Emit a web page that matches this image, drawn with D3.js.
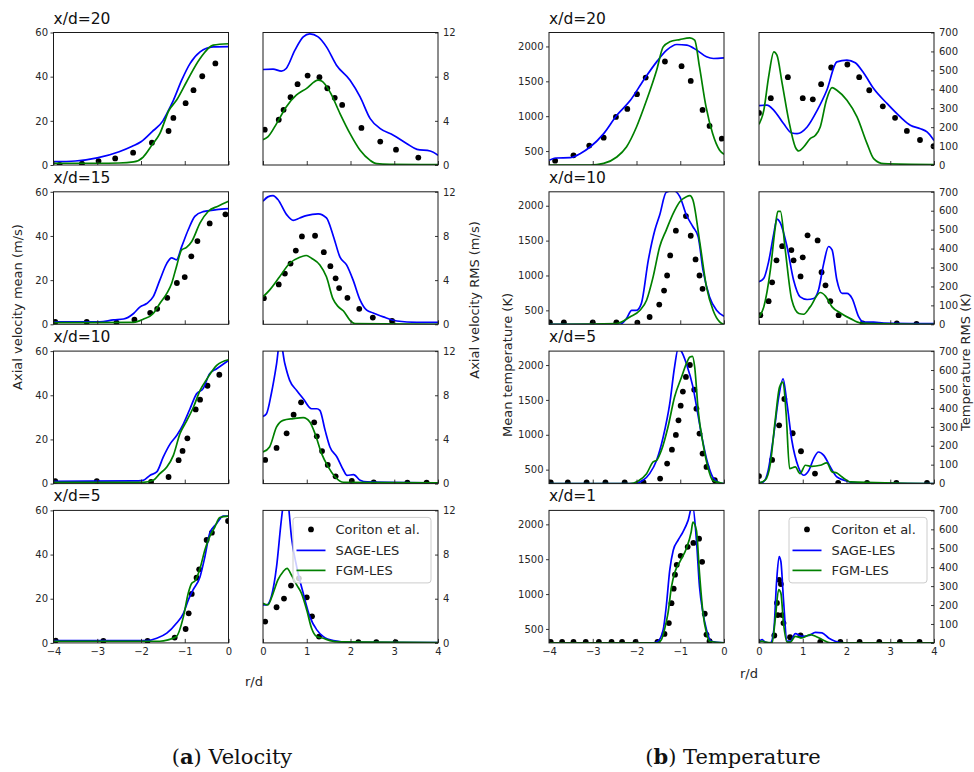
<!DOCTYPE html>
<html>
<head>
<meta charset="utf-8">
<script src="https://cdn.jsdelivr.net/npm/d3@7"></script>
<style>
  body { margin: 0; background: #fff; }
  svg { display: block; }
</style>
</head>
<body>
<svg id="fig" width="974" height="772"></svg>
<script>
// ---------- Axial velocity mean (m/s) vs r/d ----------
const uMean20Exp  = [[-3.86,0],[-3.35,0.6],[-2.97,1.8],[-2.59,3.0],[-2.18,5.6],[-1.75,10.1],[-1.37,15.4],[-1.26,21.3],[-0.98,28],[-0.80,33.9],[-0.60,40.2],[-0.30,46]];
const uMean20Sage = [[-4,1.5],[-3.5,1.8],[-3,3.2],[-2.5,6],[-2.2,8.5],[-2,10.5],[-1.75,15],[-1.5,20],[-1.41,23.3],[-1.26,29.3],[-1.07,38.4],[-0.88,45.9],[-0.65,51.2],[-0.35,53.5],[0,53.6]];
const uMean20Fgm  = [[-4,0.8],[-3,0.8],[-2.5,0.9],[-2.17,1.4],[-1.95,3.6],[-1.75,9],[-1.57,14.2],[-1.36,24.8],[-1.19,29.3],[-0.96,37.6],[-0.65,48.2],[-0.35,54.3],[0,54.9]];

const uMean15Exp  = [[-3.96,1.06],[-3.24,1.06],[-2.56,0.76],[-2.15,2.1],[-1.79,5.2],[-1.63,7.0],[-1.40,12.0],[-1.18,18.7],[-1.0,21.4],[-0.85,30.8],[-0.71,37.7],[-0.43,45.7],[-0.07,49.8]];
const uMean15Sage = [[-4,1.06],[-2.94,1.06],[-2.63,2.0],[-2.4,2.4],[-2.17,4.9],[-2.02,7.9],[-1.87,9.4],[-1.72,12.5],[-1.57,20.0],[-1.41,27.6],[-1.3,30.1],[-1.19,29.2],[-1.07,35.2],[-0.92,42.8],[-0.77,48.9],[-0.58,51.0],[-0.27,51.9],[0,52.4]];
const uMean15Fgm  = [[-4,0.76],[-2.17,0.9],[-1.95,2.3],[-1.72,4.9],[-1.57,9.4],[-1.41,14.0],[-1.3,18.5],[-1.19,26.1],[-1.07,33.7],[-0.96,34.8],[-0.84,37.5],[-0.65,45.9],[-0.46,51.2],[-0.24,53.5],[0,55.7]];

const uMean10Exp  = [[-3.96,1.06],[-3.01,1.06],[-1.77,0.75],[-1.37,3.0],[-1.14,10.6],[-1.05,14.8],[-0.94,20.5],[-0.75,33.6],[-0.65,38.0],[-0.48,44.3],[-0.21,49.3]];
const uMean10Sage = [[-4,1.06],[-2.17,1.2],[-1.95,1.5],[-1.79,3.8],[-1.64,5.3],[-1.49,12.1],[-1.33,18.1],[-1.18,21.9],[-1.03,27.1],[-0.88,33.9],[-0.73,40.7],[-0.58,43.0],[-0.43,49.8],[-0.27,52.0],[0,55.8]];
const uMean10Fgm  = [[-4,0.6],[-1.95,0.6],[-1.72,1.5],[-1.57,4.5],[-1.41,7.5],[-1.26,12.8],[-1.11,22.6],[-0.95,28.6],[-0.8,34.7],[-0.65,42.2],[-0.49,47.5],[-0.27,53.5],[0,56.1]];

const uMean5Exp   = [[-3.95,1.06],[-2.86,0.9],[-1.85,0.9],[-1.23,2.4],[-0.98,6.3],[-0.91,13.4],[-0.84,22.2],[-0.73,29.5],[-0.67,33.3],[-0.5,46.6],[-0.38,49.9],[-0.01,55.2]];
const uMean5Sage  = [[-4,1.06],[-1.87,1.06],[-1.64,2.1],[-1.41,4.4],[-1.19,8.9],[-1.03,13.4],[-0.92,19.4],[-0.81,24.0],[-0.65,30.0],[-0.54,39.0],[-0.43,49.6],[-0.27,54.1],[-0.12,57.4],[0,57.4]];
const uMean5Fgm   = [[-4,0.75],[-1.57,0.75],[-1.38,1.4],[-1.19,2.9],[-1.03,11.9],[-0.92,22.5],[-0.84,27.0],[-0.76,28.2],[-0.65,33.8],[-0.54,42.1],[-0.43,48.1],[-0.31,52.6],[-0.2,56.8],[0,57.4]];

// ---------- Axial velocity RMS (m/s) vs r/d ----------
const uRms20Exp  = [[0.04,3.2],[0.36,4.1],[0.47,5.0],[0.63,6.14],[0.79,7.32],[1.02,8.1],[1.29,7.95],[1.47,6.95],[1.64,6.08],[1.81,5.44],[2.25,3.36],[2.68,2.12],[3.04,1.39],[3.55,0.67]];
const uRms20Sage = [[0,8.65],[0.23,8.68],[0.42,8.5],[0.53,8.74],[0.73,10.4],[0.92,11.6],[1.07,11.88],[1.26,11.6],[1.45,10.7],[1.68,9.04],[1.99,7.68],[2.22,6.17],[2.45,4.2],[2.68,3.3],[2.98,2.7],[3.29,1.93],[3.52,1.42],[3.82,1.27],[4,0.88]];
const uRms20Fgm  = [[0,2.3],[0.11,2.54],[0.31,3.75],[0.53,5.26],[0.76,6.32],[0.99,6.92],[1.26,7.68],[1.34,7.6],[1.53,6.62],[1.76,4.66],[1.99,2.84],[2.22,1.33],[2.45,0.42],[2.6,0.12],[2.9,0.06],[4,0.03]];

const uRms15Exp  = [[0.02,2.37],[0.36,3.61],[0.5,4.59],[0.63,5.5],[0.75,6.68],[0.89,7.96],[1.19,8.02],[1.39,6.53],[1.54,5.26],[1.66,4.16],[1.74,3.28],[1.93,2.4],[2.2,1.4],[2.51,0.61],[2.95,0.3]];
const uRms15Sage = [[0,11.15],[0.11,11.54],[0.23,11.66],[0.34,11.3],[0.54,9.93],[0.69,9.42],[0.84,9.63],[0.99,9.84],[1.26,10.0],[1.45,9.63],[1.61,7.96],[1.76,6.08],[1.91,5.38],[2.06,4.0],[2.22,2.19],[2.37,1.28],[2.52,1.03],[2.75,0.67],[3.06,0.3],[3.52,0.18],[4,0.18]];
const uRms15Fgm  = [[0,2.49],[0.15,3.1],[0.38,4.31],[0.61,5.53],[0.84,6.08],[0.99,6.23],[1.11,5.98],[1.3,5.38],[1.45,4.31],[1.6,2.3],[1.72,1.6],[1.84,1.2],[1.99,0.36],[2.1,0.06],[4,0]];

const uRms10Exp  = [[0.05,2.14],[0.31,3.23],[0.54,4.55],[0.7,6.24],[0.87,7.36],[1.17,5.55],[1.23,4.28],[1.35,2.95],[1.48,1.69],[1.66,0.66],[2.03,0.24],[2.53,0.12],[3.3,0.09],[3.74,0.09]];
const uRms10Sage = [[0,6.09],[0.08,6.33],[0.19,8.14],[0.31,10.85],[0.39,13],[0.5,10.85],[0.61,9.35],[0.77,8.44],[0.92,7.69],[1.11,6.78],[1.23,6.78],[1.3,6.63],[1.42,4.82],[1.53,3.32],[1.69,2.41],[1.84,1.21],[1.92,0.75],[2.07,0.81],[2.22,0.3],[2.38,0.15],[4,0.06]];
const uRms10Fgm  = [[0,2.86],[0.15,3.32],[0.31,5.13],[0.46,5.73],[0.69,5.88],[0.92,5.97],[1.07,5.58],[1.19,4.52],[1.34,2.71],[1.49,1.51],[1.65,0.6],[1.84,0.12],[4,0.06]];

const uRms5Exp   = [[0.05,1.93],[0.31,3.23],[0.48,4.01],[0.64,5.19],[0.82,5.85],[1.0,4.13],[1.12,2.41],[1.28,0.57],[2.18,0.06],[2.59,0.06],[3.03,0.06]];
const uRms5Sage  = [[0,3.44],[0.08,3.44],[0.19,4.19],[0.31,6.9],[0.41,10.8],[0.46,12.5],[0.52,14],[0.58,12.5],[0.65,9.6],[0.77,6.9],[0.92,4.49],[1.07,2.38],[1.23,1.18],[1.38,0.57],[1.61,0.21],[1.99,0.06],[4,0.03]];
const uRms5Fgm   = [[0,3.59],[0.11,3.44],[0.23,4.49],[0.34,5.7],[0.46,6.45],[0.55,6.75],[0.65,6.15],[0.77,5.25],[0.88,4.49],[1.0,2.98],[1.11,1.33],[1.23,0.57],[1.38,0.42],[1.53,0.21],[1.76,0.09],[4,0.03]];

// ---------- Mean temperature (K) vs r/d ----------
const tMean20Exp  = [[-3.86,362],[-3.44,439],[-3.08,578],[-2.75,692],[-2.47,989],[-2.21,1104],[-1.99,1315],[-1.79,1554],[-1.35,1784],[-0.97,1717],[-0.76,1506],[-0.49,1090],[-0.33,860],[-0.05,678]];
const tMean20Sage = [[-4,367],[-3.83,400],[-3.52,405],[-3.29,463],[-3.06,558],[-2.75,750],[-2.45,1013],[-2.14,1228],[-1.84,1515],[-1.54,1779],[-1.31,1946],[-1.08,2028],[-0.85,2018],[-0.62,1946],[-0.40,1851],[-0.24,1827],[0,1836]];
const tMean20Fgm  = [[-4,300],[-3.06,300],[-2.75,324],[-2.45,415],[-2.23,558],[-2.0,845],[-1.77,1228],[-1.54,1659],[-1.39,1994],[-1.24,2066],[-1.01,2099],[-0.78,2123],[-0.67,2090],[-0.56,1707],[-0.41,1133],[-0.26,750],[-0.10,511],[0,453]];

const tMean10Exp  = [[-3.98,329],[-3.66,329],[-3.0,329],[-2.46,329],[-1.98,324],[-1.70,405],[-1.48,583],[-1.37,784],[-1.30,1000],[-1.23,1287],[-1.10,1642],[-0.87,1852],[-0.76,1570],[-0.65,1230],[-0.56,1000],[-0.49,808]];
const tMean10Sage = [[-4,300],[-2.38,300],[-2.23,381],[-2.11,501],[-2.0,501],[-1.89,597],[-1.73,1220],[-1.58,1651],[-1.47,1867],[-1.32,2193],[-1.16,2215],[-1.01,2130],[-0.86,1867],[-0.71,1699],[-0.59,1555],[-0.48,1076],[-0.33,693],[-0.17,501],[0,415]];
const tMean10Fgm  = [[-4,300],[-2.46,310],[-2.15,405],[-1.92,501],[-1.77,645],[-1.62,980],[-1.47,1412],[-1.32,1651],[-1.16,1891],[-1.01,2058],[-0.86,2130],[-0.78,2145],[-0.71,2082],[-0.55,1460],[-0.40,837],[-0.25,501],[-0.10,334],[0,300]];

const tMean5Exp   = [[-3.96,319],[-3.57,319],[-3.14,319],[-2.71,319],[-2.27,319],[-1.84,319],[-1.46,372],[-1.30,587],[-1.19,787],[-1.10,998],[-1.04,1208],[-0.99,1418],[-0.94,1619],[-0.87,1829],[-0.78,2001],[-0.68,1647],[-0.63,1375],[-0.56,1017],[-0.49,730],[-0.40,539],[-0.21,348]];
const tMean5Sage  = [[-4,300],[-2.08,300],[-1.85,348],[-1.70,443],[-1.54,634],[-1.39,969],[-1.24,1447],[-1.13,1972],[-1.05,2230],[-0.98,2202],[-0.86,2020],[-0.71,1686],[-0.60,1303],[-0.49,921],[-0.37,587],[-0.26,396],[-0.10,310],[0,300]];
const tMean5Fgm   = [[-4,300],[-2.16,300],[-1.96,338],[-1.77,443],[-1.62,611],[-1.54,634],[-1.43,778],[-1.28,1112],[-1.13,1542],[-0.97,1829],[-0.86,2020],[-0.78,2116],[-0.72,2125],[-0.67,1972],[-0.59,1351],[-0.48,873],[-0.37,539],[-0.26,348],[0,300]];

const tMean1Exp   = [[-3.96,314],[-3.7,314],[-3.44,314],[-3.16,314],[-2.86,314],[-2.57,314],[-2.33,314],[-2.02,314],[-1.52,314],[-1.36,428],[-1.26,585],[-1.2,870],[-1.15,1078],[-1.12,1278],[-1.08,1420],[-0.99,1548],[-0.83,1677],[-0.70,1734],[-0.57,1795],[-0.5,1463],[-0.44,718],[-0.40,419],[-0.33,324]];
const tMean1Sage  = [[-4,300],[-1.62,300],[-1.51,324],[-1.39,490],[-1.32,822],[-1.24,1344],[-1.16,1629],[-1.05,1772],[-0.94,1890],[-0.82,2057],[-0.72,2280],[-0.63,1772],[-0.56,1107],[-0.48,727],[-0.40,490],[-0.29,324],[0,300]];
const tMean1Fgm   = [[-4,300],[-1.52,300],[-1.43,347],[-1.36,490],[-1.28,727],[-1.2,1107],[-1.12,1320],[-1.01,1463],[-0.86,1653],[-0.75,1890],[-0.71,2033],[-0.63,1914],[-0.56,1297],[-0.48,727],[-0.40,442],[-0.33,324],[0,300]];

// ---------- Temperature RMS (K) vs r/d ----------
const tRms20Exp  = [[0,275],[0.27,353],[0.66,464],[1.0,353],[1.23,347],[1.42,427],[1.65,515],[2.02,531],[2.29,464],[2.52,395],[2.83,310],[3.11,249],[3.38,180],[3.68,132],[3.99,99]];
const tRms20Sage = [[0,314],[0.18,316],[0.34,289],[0.56,219],[0.75,169],[0.87,166],[1.1,201],[1.33,289],[1.55,395],[1.78,545],[2.01,554],[2.2,540],[2.4,483],[2.62,404],[2.93,324],[3.23,254],[3.46,210],[3.69,192],[3.84,175],[4,130]];
const tRms20Fgm  = [[0,215],[0.11,289],[0.22,466],[0.34,598],[0.41,580],[0.53,430],[0.68,236],[0.83,95],[0.91,74],[1.02,95],[1.17,139],[1.29,157],[1.4,201],[1.54,342],[1.67,409],[1.78,395],[2.01,342],[2.24,254],[2.47,113],[2.62,34],[2.85,7],[4,2]];

const tRms10Exp  = [[0.03,48],[0.22,122],[0.3,222],[0.4,338],[0.53,413],[0.74,392],[0.79,338],[0.95,253],[1.0,354],[1.11,470],[1.34,443],[1.43,275],[1.52,206],[1.63,122],[1.82,48],[2.37,5],[3.15,5],[3.6,2]];
const tRms10Sage = [[0,225],[0.11,243],[0.22,331],[0.34,482],[0.41,556],[0.49,535],[0.64,411],[0.79,234],[0.94,145],[1.1,131],[1.25,136],[1.36,181],[1.48,322],[1.59,411],[1.67,393],[1.78,234],[1.9,163],[2.01,163],[2.13,136],[2.28,39],[2.39,12],[2.62,12],[2.85,7],[4,4]];
const tRms10Fgm  = [[0,39],[0.11,92],[0.26,287],[0.37,509],[0.43,597],[0.49,597],[0.6,393],[0.75,128],[0.91,57],[1.02,53],[1.17,92],[1.4,168],[1.52,149],[1.67,92],[1.86,60],[2.09,30],[2.32,7],[4,0]];

const tRms5Exp   = [[0,40],[0.30,125],[0.46,308],[0.58,447],[0.77,266],[0.96,171],[1.28,53],[1.81,4],[2.47,4],[3.14,4],[3.84,4]];
const tRms5Sage  = [[0,4],[0.1,9],[0.21,70],[0.33,246],[0.45,457],[0.55,554],[0.64,422],[0.75,229],[0.9,88],[1.02,44],[1.14,70],[1.25,132],[1.36,167],[1.48,149],[1.63,88],[1.78,35],[1.94,18],[2.24,4],[4,0]];
const tRms5Fgm   = [[0,4],[0.14,18],[0.26,106],[0.37,334],[0.47,510],[0.55,536],[0.62,369],[0.7,79],[0.83,88],[0.94,53],[1.06,97],[1.21,91],[1.4,97],[1.55,109],[1.67,62],[1.78,56],[1.9,35],[2.09,9],[4,0]];

const tRms1Exp   = [[0.35,39],[0.41,211],[0.43,147],[0.46,333],[0.5,311],[0.53,147],[0.56,105],[0.71,30],[0.95,40],[1.4,5],[1.86,5],[2.3,5],[2.75,5],[3.22,5],[3.67,5]];
const tRms1Sage  = [[0,5],[0.07,18],[0.14,5],[0.26,0],[0.34,70],[0.4,316],[0.46,456],[0.5,430],[0.56,228],[0.64,9],[0.72,9],[0.83,49],[0.98,35],[1.14,39],[1.29,56],[1.44,53],[1.59,26],[1.74,9],[1.94,0],[4,0]];
const tRms1Fgm   = [[0,4],[0.07,9],[0.14,4],[0.3,0],[0.37,123],[0.45,281],[0.5,263],[0.56,105],[0.64,4],[0.72,4],[0.83,35],[0.98,26],[1.17,44],[1.29,35],[1.44,18],[1.63,0],[4,0]];

// ---------- axis / label text ----------
const velTitles  = ["x/d=20", "x/d=15", "x/d=10", "x/d=5"];
const tempTitles = ["x/d=20", "x/d=10", "x/d=5", "x/d=1"];
const leftXTicks  = [-4, -3, -2, -1, 0];
const rightXTicks = [0, 1, 2, 3, 4];
const uMeanTicks = [0, 20, 40, 60];
const uRmsTicks  = [0, 4, 8, 12];
const tMeanTicks = [500, 1000, 1500, 2000];
const tRmsTicks  = [0, 100, 200, 300, 400, 500, 600, 700];
const seriesNames = ["Coriton et al.", "SAGE-LES", "FGM-LES"];

// ---------- layout ----------
const W = 175, H = 132.5;
const rowTop = [32.5, 191.8, 351.1, 510.4];
const SANS = "'DejaVu Sans', sans-serif";
const SAGE_COLOR = "#0000ff", FGM_COLOR = "#008000", EXP_COLOR = "#000000";
const TXT = "#262626";
const intFmt = d3.format("d");

const columns = [
  { left: 53.5, xDom: [-4, 0], xTicks: leftXTicks, yDom: [0, 60], yTicks: uMeanTicks, side: "left",
    titles: velTitles, exp: [uMean20Exp, uMean15Exp, uMean10Exp, uMean5Exp],
    sage: [uMean20Sage, uMean15Sage, uMean10Sage, uMean5Sage], fgm: [uMean20Fgm, uMean15Fgm, uMean10Fgm, uMean5Fgm] },
  { left: 263, xDom: [0, 4], xTicks: rightXTicks, yDom: [0, 12], yTicks: uRmsTicks, side: "right",
    titles: null, exp: [uRms20Exp, uRms15Exp, uRms10Exp, uRms5Exp],
    sage: [uRms20Sage, uRms15Sage, uRms10Sage, uRms5Sage], fgm: [uRms20Fgm, uRms15Fgm, uRms10Fgm, uRms5Fgm], legend: true },
  { left: 549, xDom: [-4, 0], xTicks: leftXTicks, yDom: [300, 2200], yTicks: tMeanTicks, side: "left",
    titles: tempTitles, exp: [tMean20Exp, tMean10Exp, tMean5Exp, tMean1Exp],
    sage: [tMean20Sage, tMean10Sage, tMean5Sage, tMean1Sage], fgm: [tMean20Fgm, tMean10Fgm, tMean5Fgm, tMean1Fgm] },
  { left: 759, xDom: [0, 4], xTicks: rightXTicks, yDom: [0, 700], yTicks: tRmsTicks, side: "right",
    titles: null, exp: [tRms20Exp, tRms10Exp, tRms5Exp, tRms1Exp],
    sage: [tRms20Sage, tRms10Sage, tRms5Sage, tRms1Sage], fgm: [tRms20Fgm, tRms10Fgm, tRms5Fgm, tRms1Fgm], legend: true }
];

const svg = d3.select("#fig");
svg.append("rect").attr("width", 974).attr("height", 772).attr("fill", "#fff");
const defs = svg.append("defs");

function styleAxis(g) {
  g.select(".domain").remove();
  g.selectAll(".tick line").attr("stroke", "#222").attr("stroke-width", 0.9);
  g.selectAll(".tick text").attr("fill", TXT).attr("font-family", SANS).attr("font-size", 10);
}

let clipId = 0;
function drawPanel(col, r) {
  const top = rowTop[r];
  const x = d3.scaleLinear().domain(col.xDom).range([col.left, col.left + W]);
  const y = d3.scaleLinear().domain(col.yDom).range([top + H, top]);
  const id = "clip" + (clipId++);
  defs.append("clipPath").attr("id", id).append("rect")
    .attr("x", col.left).attr("y", top).attr("width", W).attr("height", H);

  const g = svg.append("g");
  const plot = g.append("g").attr("clip-path", `url(#${id})`);
  const line = d3.line().x(d => x(d[0])).y(d => y(d[1])).curve(d3.curveMonotoneX);

  plot.selectAll("circle").data(col.exp[r]).join("circle")
    .attr("cx", d => x(d[0])).attr("cy", d => y(d[1])).attr("r", 2.9).attr("fill", EXP_COLOR);
  plot.append("path").datum(col.sage[r]).attr("d", line)
    .attr("fill", "none").attr("stroke", SAGE_COLOR).attr("stroke-width", 1.7).attr("stroke-linejoin", "round");
  plot.append("path").datum(col.fgm[r]).attr("d", line)
    .attr("fill", "none").attr("stroke", FGM_COLOR).attr("stroke-width", 1.7).attr("stroke-linejoin", "round");

  // x axis: inward ticks, labels only on the bottom row
  const xa = d3.axisBottom(x).tickValues(col.xTicks).tickSizeInner(-4).tickSizeOuter(0).tickPadding(5)
    .tickFormat(r === 3 ? intFmt : () => "");
  g.append("g").attr("transform", `translate(0,${top + H})`).call(xa).call(styleAxis);

  // y axis
  if (col.side === "left") {
    const ya = d3.axisLeft(y).tickValues(col.yTicks).tickFormat(intFmt)
      .tickSizeInner(3).tickSizeOuter(0).tickPadding(2.5);
    g.append("g").attr("transform", `translate(${col.left},0)`).call(ya).call(styleAxis);
  } else {
    const ya = d3.axisRight(y).tickValues(col.yTicks).tickFormat(intFmt)
      .tickSizeInner(-3).tickSizeOuter(0).tickPadding(5);
    g.append("g").attr("transform", `translate(${col.left + W},0)`).call(ya).call(styleAxis);
  }

  g.append("rect").attr("x", col.left).attr("y", top).attr("width", W).attr("height", H)
    .attr("fill", "none").attr("stroke", "#1a1a1a").attr("stroke-width", 1);

  if (col.titles) {
    g.append("text").attr("x", col.left).attr("y", top - 9)
      .attr("font-family", SANS).attr("font-size", 15.5).attr("fill", "#111").text(col.titles[r]);
  }

  if (col.legend && r === 3) {
    const lx = col.left + 30, ly = top + 7, lw = 138, lh = 65.5;
    const lg = g.append("g");
    lg.append("rect").attr("x", lx).attr("y", ly).attr("width", lw).attr("height", lh).attr("rx", 3)
      .attr("fill", "#fff").attr("fill-opacity", 0.8).attr("stroke", "#cccccc").attr("stroke-width", 1);
    const rowsY = [ly + 12, ly + 33, ly + 53];
    lg.append("circle").attr("cx", lx + 18).attr("cy", rowsY[0]).attr("r", 2.9).attr("fill", EXP_COLOR);
    lg.append("line").attr("x1", lx + 3.5).attr("x2", lx + 32.5).attr("y1", rowsY[1]).attr("y2", rowsY[1])
      .attr("stroke", SAGE_COLOR).attr("stroke-width", 1.7);
    lg.append("line").attr("x1", lx + 3.5).attr("x2", lx + 32.5).attr("y1", rowsY[2]).attr("y2", rowsY[2])
      .attr("stroke", FGM_COLOR).attr("stroke-width", 1.7);
    seriesNames.forEach((nm, i) => {
      lg.append("text").attr("x", lx + 42.5).attr("y", rowsY[i]).attr("dy", "0.35em")
        .attr("font-family", SANS).attr("font-size", 13).attr("fill", TXT).text(nm);
    });
  }
}

columns.forEach(col => { for (let r = 0; r < 4; r++) drawPanel(col, r); });

// axis labels
function vLabel(x, y, txt) {
  svg.append("text").attr("transform", `translate(${x},${y}) rotate(-90)`).attr("text-anchor", "middle")
    .attr("font-family", SANS).attr("font-size", 13).attr("fill", TXT).text(txt);
}
vLabel(22, 307, "Axial velocity mean (m/s)");
vLabel(479, 300, "Axial velocity RMS (m/s)");
vLabel(512, 365, "Mean temperature (K)");
vLabel(970, 362, "Temperature RMS (K)");

svg.append("text").attr("x", 254).attr("y", 686).attr("text-anchor", "middle")
  .attr("font-family", SANS).attr("font-size", 13).attr("fill", TXT).text("r/d");
svg.append("text").attr("x", 749).attr("y", 678).attr("text-anchor", "middle")
  .attr("font-family", SANS).attr("font-size", 13).attr("fill", TXT).text("r/d");

// sub-figure captions
function caption(cx, letter, rest) {
  const t = svg.append("text").attr("x", cx).attr("y", 764).attr("text-anchor", "middle")
    .attr("font-family", "'DejaVu Serif', 'Liberation Serif', serif").attr("font-size", 21).attr("fill", "#111");
  t.append("tspan").text("(");
  t.append("tspan").attr("font-weight", "bold").text(letter);
  t.append("tspan").text(") " + rest);
}
caption(232, "a", "Velocity");
caption(733, "b", "Temperature");
</script>
</body>
</html>
